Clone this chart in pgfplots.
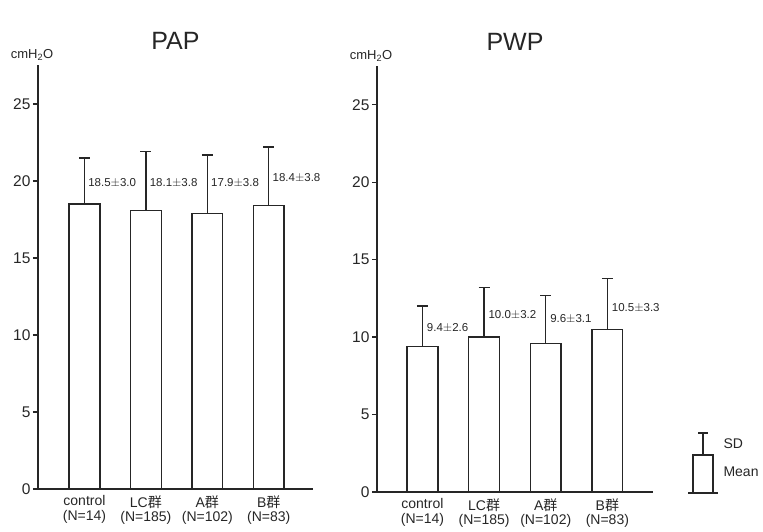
\documentclass[border=0pt]{standalone}
\usepackage{fontspec}
\setmainfont{Liberation Sans}
\newfontfamily\cjk{Noto Sans CJK JP}
\usepackage{pgfplots}
\pgfplotsset{compat=1.18}
\usepackage{pgfplotstable}

\pgfplotstableread{
x mean sd
1 18.5 3.0
2 18.1 3.8
3 17.9 3.8
4 18.4 3.8
}\pap
\pgfplotstableread{
x mean sd
1 9.4 2.6
2 10.0 3.2
3 9.6 3.1
4 10.5 3.3
}\pwp

\colorlet{ink}{black!85}

\tikzset{
  vallabel/.style={anchor=west, font=\fontsize{11.5}{12}\selectfont, text=ink, inner sep=0pt},
  barplot/.style={draw=ink, fill=white, line width=1.4pt},
  unitlabel/.style={above, text=ink, font=\fontsize{13}{13}\selectfont, xshift=-6pt, yshift=1pt},
}

\pgfplotsset{
  sdchart/.style={
    scale only axis, anchor=south west, clip=false,
    ymin=0, ymax=27.5,
    axis x line=bottom, axis y line=left,
    axis line style={-, line width=1.6pt, ink},
    ytick={0,5,...,25}, tick align=outside,
    major tick length=5pt,
    y tick style={line width=1.3pt, ink},
    x tick style={draw=none},
    /pgf/number format/assume math mode=true,
    yticklabel style={font=\fontsize{15.5}{15}\selectfont, text=ink, xshift=1pt},
    xtick={1,2,3,4},
    xticklabels={control\\(N=14), LC{\cjk 群}\\(N=185), A{\cjk 群}\\(N=102), B{\cjk 群}\\(N=83)},
    xticklabel style={align=center, font=\fontsize{14}{14.5}\selectfont, text=ink, yshift=2pt},
    title style={font=\fontsize{25}{25}\selectfont, text=ink, yshift=6pt},
    ybar, bar width=0.5, bar shift=0pt,
    error bars/y dir=plus, error bars/y explicit,
    error bars/error mark=-,
    error bars/error bar style={line width=1.4pt, ink},
    error bars/error mark options={rotate=90, mark size=5.5pt, line width=1.4pt, ink},
  },
}

\begin{document}
\begin{tikzpicture}
\path[use as bounding box] (0pt,0pt) rectangle (763pt,532pt);

% PAP
\begin{axis}[sdchart, at={(38pt,43pt)}, width=275pt, height=423.5pt,
  xmin=0.244, xmax=4.72, title={PAP}]
\addplot[barplot] table[x=x, y=mean, y error=sd] {\pap};
\node[vallabel] at (axis cs:1.06,19.9) {18.5$\pm$3.0};
\node[vallabel] at (axis cs:2.06,19.9) {18.1$\pm$3.8};
\node[vallabel] at (axis cs:3.06,19.9) {17.9$\pm$3.8};
\node[vallabel] at (axis cs:4.06,20.2) {18.4$\pm$3.8};
\node[unitlabel] at (rel axis cs:0,1) {cmH\textsubscript{2}O};
\end{axis}

% PWP
\begin{axis}[sdchart, at={(377pt,40pt)}, width=276pt, height=426pt,
  xmin=0.263, xmax=4.74, title={PWP}]
\addplot[barplot] table[x=x, y=mean, y error=sd] {\pwp};
\node[vallabel] at (axis cs:1.07,10.6) {9.4$\pm$2.6};
\node[vallabel] at (axis cs:2.07,11.4) {10.0$\pm$3.2};
\node[vallabel] at (axis cs:3.07,11.2) {9.6$\pm$3.1};
\node[vallabel] at (axis cs:4.07,11.9) {10.5$\pm$3.3};
\node[unitlabel] at (rel axis cs:0,1) {cmH\textsubscript{2}O};
\end{axis}

% key: SD / Mean
\begin{axis}[scale only axis, anchor=south west, at={(688pt,39pt)},
  width=30pt, height=60pt, xmin=-15, xmax=15, ymin=0, ymax=60,
  axis x line=bottom, axis y line=none,
  axis line style={-, line width=1.3pt, ink},
  xtick=\empty, ytick=\empty, clip=false,
  ybar, bar width=20, bar shift=0pt,
  error bars/y dir=plus, error bars/y explicit,
  error bars/error mark=-,
  error bars/error bar style={line width=1.3pt, ink},
  error bars/error mark options={rotate=90, mark size=5pt, line width=1.3pt, ink}]
\addplot[barplot, line width=1.3pt] coordinates {(0,38) +- (0,22)};
\node[anchor=west, text=ink, font=\fontsize{14}{14}\selectfont] at (axis cs:17,49) {SD};
\node[anchor=west, text=ink, font=\fontsize{14}{14}\selectfont] at (axis cs:17,21) {Mean};
\end{axis}
\end{tikzpicture}
\end{document}
